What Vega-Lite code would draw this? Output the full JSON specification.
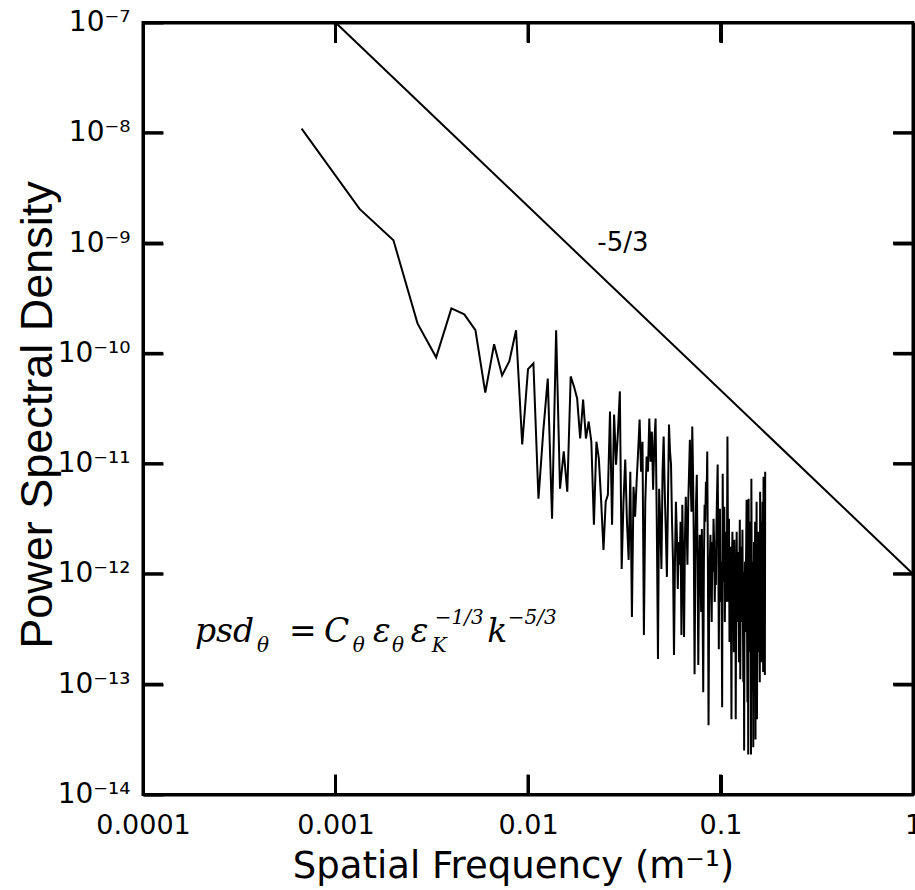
{
  "$schema": "https://vega.github.io/schema/vega-lite/v6.json",
  "width": 770,
  "height": 772,
  "autosize": {"type": "none"},
  "padding": {"left": 143, "top": 22.5, "right": 2, "bottom": 95.5},
  "background": "white",
  "config": {
    "view": {"stroke": "black", "strokeWidth": 3},
    "axis": {"grid": false, "zindex": 1, "ticks": true, "tickSize": -20, "tickWidth": 3, "tickColor": "black", "tickOpacity": 1, "domainColor": "black", "domainWidth": 3, "labelColor": "black", "titleColor": "black"}
  },
  "datasets": {
    "spectrum": [
      {"k":0.000666667,"p":1.09e-8},{"k":0.00133333,"p":2.04e-9},{"k":0.002,"p":1.06e-9},{"k":0.00266667,"p":1.87e-10},{"k":0.00333333,"p":9.2e-11},
      {"k":0.004,"p":2.56e-10},{"k":0.00466667,"p":2.26e-10},{"k":0.00533333,"p":1.62e-10},{"k":0.006,"p":4.4e-11},{"k":0.00666667,"p":1.21e-10},
      {"k":0.00733333,"p":6.3e-11},{"k":0.008,"p":8.5e-11},{"k":0.00866667,"p":1.62e-10},{"k":0.00933333,"p":1.49e-11},{"k":0.01,"p":7.2e-11},
      {"k":0.0106667,"p":8.1e-11},{"k":0.0113333,"p":4.81e-12},{"k":0.012,"p":1.95e-11},{"k":0.0126667,"p":5.9e-11},{"k":0.0133333,"p":3.16e-12},
      {"k":0.014,"p":1.62e-10},{"k":0.0146667,"p":5.93e-12},{"k":0.0153333,"p":1.29e-11},{"k":0.016,"p":5.56e-12},{"k":0.0166667,"p":6.18e-11},
      {"k":0.0173333,"p":5.01e-11},{"k":0.018,"p":3.9e-11},{"k":0.0186667,"p":1.69e-11},{"k":0.0193333,"p":3.82e-11},{"k":0.02,"p":1.69e-11},
      {"k":0.0206667,"p":2.41e-11},{"k":0.0213333,"p":1.58e-11},{"k":0.022,"p":2.79e-12},{"k":0.0226667,"p":1.58e-11},{"k":0.0233333,"p":1.11e-11},
      {"k":0.024,"p":4.52e-12},{"k":0.0246667,"p":1.65e-12},{"k":0.0253333,"p":4.52e-12},{"k":0.026,"p":5.22e-12},{"k":0.0266667,"p":2.97e-11},
      {"k":0.0273333,"p":2.79e-12},{"k":0.028,"p":2.79e-11},{"k":0.0286667,"p":9.8e-12},{"k":0.0293333,"p":1.95e-11},{"k":0.03,"p":4.52e-11},
      {"k":0.0306667,"p":1.11e-12},{"k":0.0313333,"p":4.52e-12},{"k":0.032,"p":1.09e-11},{"k":0.0326667,"p":2.97e-12},{"k":0.0333333,"p":1.34e-12},
      {"k":0.034,"p":8.45e-12},{"k":0.0346667,"p":4.06e-13},{"k":0.0353333,"p":6.18e-12},{"k":0.036,"p":3.3e-12},{"k":0.0366667,"p":6.86e-12},
      {"k":0.0373333,"p":1.29e-11},{"k":0.038,"p":2.51e-11},{"k":0.0386667,"p":8.45e-12},{"k":0.0393333,"p":1.58e-11},{"k":0.04,"p":2.79e-13},
      {"k":0.0406667,"p":4.52e-12},{"k":0.0413333,"p":1.16e-11},{"k":0.042,"p":8.45e-12},{"k":0.0426667,"p":2.56e-11},{"k":0.0433333,"p":1.04e-11},
      {"k":0.044,"p":1.95e-11},{"k":0.0446667,"p":5.8e-12},{"k":0.0453333,"p":1.58e-11},{"k":0.046,"p":2.56e-11},{"k":0.0466667,"p":2.97e-12},
      {"k":0.0473333,"p":1.69e-13},{"k":0.048,"p":5.93e-12},{"k":0.0486667,"p":2.97e-12},{"k":0.0493333,"p":1.11e-12},{"k":0.05,"p":8.45e-12},
      {"k":0.0506667,"p":1.76e-11},{"k":0.0513333,"p":5.56e-12},{"k":0.052,"p":2.41e-12},{"k":0.0526667,"p":9.4e-13},{"k":0.0533333,"p":4.52e-12},
      {"k":0.054,"p":2.26e-11},{"k":0.0546667,"p":1.29e-11},{"k":0.0553333,"p":9.8e-12},{"k":0.056,"p":2.97e-12},{"k":0.0566667,"p":1.29e-12},
      {"k":0.0573333,"p":1.84e-13},{"k":0.058,"p":1.29e-12},{"k":0.0586667,"p":4.52e-12},{"k":0.0593333,"p":2.31e-12},{"k":0.06,"p":7.31e-13},
      {"k":0.0606667,"p":1.95e-12},{"k":0.0613333,"p":1.21e-12},{"k":0.062,"p":2.97e-12},{"k":0.0626667,"p":2.79e-13},{"k":0.0633333,"p":4.24e-12},
      {"k":0.064,"p":1.29e-12},{"k":0.0646667,"p":2.68e-13},{"k":0.0653333,"p":1.95e-12},{"k":0.066,"p":5.01e-12},{"k":0.0666667,"p":2.97e-12},
      {"k":0.0673333,"p":1.21e-12},{"k":0.068,"p":4.52e-12},{"k":0.0686667,"p":8.45e-12},{"k":0.0693333,"p":1.65e-11},{"k":0.07,"p":6.86e-12},
      {"k":0.0706667,"p":3.66e-12},{"k":0.0713333,"p":2.17e-11},{"k":0.072,"p":8.45e-12},{"k":0.0726667,"p":1.95e-12},{"k":0.0733333,"p":1.23e-13},
      {"k":0.074,"p":1.29e-12},{"k":0.0746667,"p":4.52e-12},{"k":0.0753333,"p":7.94e-12},{"k":0.076,"p":1.29e-12},{"k":0.0766667,"p":1.49e-13},
      {"k":0.0773333,"p":8.45e-13},{"k":0.078,"p":2.26e-12},{"k":0.0786667,"p":1.29e-12},{"k":0.0793333,"p":4.52e-13},{"k":0.08,"p":2.56e-12},
      {"k":0.0806667,"p":5.56e-13},{"k":0.0813333,"p":8.45e-14},{"k":0.082,"p":1.29e-12},{"k":0.0826667,"p":4.24e-12},{"k":0.0833333,"p":2.97e-12},
      {"k":0.084,"p":6.86e-12},{"k":0.0846667,"p":4.52e-12},{"k":0.0853333,"p":1.29e-11},{"k":0.086,"p":1.29e-12},{"k":0.0866667,"p":4.24e-14},
      {"k":0.0873333,"p":5.56e-13},{"k":0.088,"p":1.29e-12},{"k":0.0886667,"p":2.26e-12},{"k":0.0893333,"p":8.45e-13},{"k":0.09,"p":3.66e-13},
      {"k":0.0906667,"p":1.95e-12},{"k":0.0913333,"p":1.04e-12},{"k":0.092,"p":3.16e-12},{"k":0.0926667,"p":1.95e-12},{"k":0.0933333,"p":5.56e-13},
      {"k":0.094,"p":1.29e-12},{"k":0.0946667,"p":7.94e-13},{"k":0.0953333,"p":2.97e-12},{"k":0.096,"p":5.56e-12},{"k":0.0966667,"p":9.8e-12},
      {"k":0.0973333,"p":2.41e-12},{"k":0.098,"p":2.08e-13},{"k":0.0986667,"p":1.29e-12},{"k":0.0993333,"p":3.9e-12},{"k":0.1,"p":5.56e-13},
      {"k":0.100667,"p":1.29e-12},{"k":0.101333,"p":5.56e-13},{"k":0.102,"p":6.18e-14},{"k":0.102667,"p":8.1e-12},{"k":0.103333,"p":1.29e-12},
      {"k":0.104,"p":8.45e-13},{"k":0.104667,"p":4.06e-12},{"k":0.105333,"p":3.66e-13},{"k":0.106,"p":1.29e-12},{"k":0.106667,"p":2.41e-12},
      {"k":0.107333,"p":5.56e-13},{"k":0.108,"p":1.29e-12},{"k":0.108667,"p":1.76e-11},{"k":0.109333,"p":1.95e-12},{"k":0.11,"p":5.56e-13},
      {"k":0.110667,"p":3.16e-12},{"k":0.111333,"p":2.41e-13},{"k":0.112,"p":8.45e-13},{"k":0.112667,"p":1.76e-12},{"k":0.113333,"p":4.52e-13},
      {"k":0.114,"p":4.81e-14},{"k":0.114667,"p":1.29e-12},{"k":0.115333,"p":2.41e-12},{"k":0.116,"p":5.56e-13},{"k":0.116667,"p":1.04e-12},
      {"k":0.117333,"p":1.95e-13},{"k":0.118,"p":2.04e-12},{"k":0.118667,"p":5.56e-13},{"k":0.119333,"p":1.29e-12},{"k":0.12,"p":4.81e-14},
      {"k":0.120667,"p":8.45e-13},{"k":0.121333,"p":2.41e-12},{"k":0.122,"p":6.86e-13},{"k":0.122667,"p":3.66e-13},{"k":0.123333,"p":1.58e-12},
      {"k":0.124,"p":5.56e-13},{"k":0.124667,"p":1.58e-13},{"k":0.125333,"p":1.29e-12},{"k":0.126,"p":3.1e-12},{"k":0.126667,"p":1.11e-13},
      {"k":0.127333,"p":8.45e-13},{"k":0.128,"p":1.76e-12},{"k":0.128667,"p":3.66e-13},{"k":0.129333,"p":5.56e-13},{"k":0.13,"p":2.51e-12},
      {"k":0.130667,"p":5.56e-13},{"k":0.131333,"p":1.04e-13},{"k":0.132,"p":1.04e-12},{"k":0.132667,"p":2.51e-14},{"k":0.133333,"p":5.56e-13},
      {"k":0.134,"p":1.29e-12},{"k":0.134667,"p":2.97e-13},{"k":0.135333,"p":8.45e-13},{"k":0.136,"p":1.95e-12},{"k":0.136667,"p":4.71e-12},
      {"k":0.137333,"p":3.66e-13},{"k":0.138,"p":6.86e-14},{"k":0.138667,"p":8.45e-13},{"k":0.139333,"p":2.31e-14},{"k":0.14,"p":4.81e-12},
      {"k":0.140667,"p":5.56e-13},{"k":0.141333,"p":1.95e-13},{"k":0.142,"p":1.29e-12},{"k":0.142667,"p":5.56e-13},{"k":0.143333,"p":2.97e-12},
      {"k":0.144,"p":2.31e-14},{"k":0.144667,"p":7.31e-12},{"k":0.145333,"p":8.45e-13},{"k":0.146,"p":3.66e-13},{"k":0.146667,"p":8.45e-14},
      {"k":0.147333,"p":1.29e-12},{"k":0.148,"p":2.68e-14},{"k":0.148667,"p":5.56e-13},{"k":0.149333,"p":1.95e-12},{"k":0.15,"p":2.41e-13},
      {"k":0.150667,"p":8.45e-13},{"k":0.151333,"p":2.97e-12},{"k":0.152,"p":3.16e-14},{"k":0.152667,"p":5.56e-13},{"k":0.153333,"p":1.29e-12},
      {"k":0.154,"p":4.52e-12},{"k":0.154667,"p":4.81e-14},{"k":0.155333,"p":3.66e-13},{"k":0.156,"p":1.29e-12},{"k":0.156667,"p":5.56e-13},
      {"k":0.157333,"p":2.41e-12},{"k":0.158,"p":1.95e-13},{"k":0.158667,"p":8.45e-13},{"k":0.159333,"p":3.66e-13},{"k":0.16,"p":1.04e-13},
      {"k":0.160667,"p":5.56e-12},{"k":0.161333,"p":1.29e-12},{"k":0.162,"p":2.41e-13},{"k":0.162667,"p":5.56e-13},{"k":0.163333,"p":2.97e-12},
      {"k":0.164,"p":1.58e-13},{"k":0.164667,"p":1.29e-12},{"k":0.165333,"p":4.52e-12},{"k":0.166,"p":3.66e-13},{"k":0.166667,"p":1.29e-13},
      {"k":0.167333,"p":7.62e-12},{"k":0.168,"p":1.29e-12},{"k":0.168667,"p":5.56e-13},{"k":0.169333,"p":2.97e-12},{"k":0.17,"p":1.21e-13},
      {"k":0.170667,"p":8.45e-12}
    ],
    "slope": [{"k":0.001,"p":1e-7},{"k":1,"p":1e-12}],
    "slopeLabel": [{"k":0.0311,"p":8.5e-10,"t":"-5/3"}],
    "ticks": [
      {"id":"b1","k":0.001,"p":1e-14},{"id":"b1","k":0.001,"p":1.518e-14},
      {"id":"b2","k":0.01,"p":1e-14},{"id":"b2","k":0.01,"p":1.518e-14},
      {"id":"b3","k":0.1,"p":1e-14},{"id":"b3","k":0.1,"p":1.518e-14},
      {"id":"t1","k":0.001,"p":1e-7},{"id":"t1","k":0.001,"p":6.59e-8},
      {"id":"t2","k":0.01,"p":1e-7},{"id":"t2","k":0.01,"p":6.59e-8},
      {"id":"t3","k":0.1,"p":1e-7},{"id":"t3","k":0.1,"p":6.59e-8},
      {"id":"l1","k":0.0001,"p":1e-13},{"id":"l1","k":0.000127,"p":1e-13},
      {"id":"l2","k":0.0001,"p":1e-12},{"id":"l2","k":0.000127,"p":1e-12},
      {"id":"l3","k":0.0001,"p":1e-11},{"id":"l3","k":0.000127,"p":1e-11},
      {"id":"l4","k":0.0001,"p":1e-10},{"id":"l4","k":0.000127,"p":1e-10},
      {"id":"l5","k":0.0001,"p":1e-9},{"id":"l5","k":0.000127,"p":1e-9},
      {"id":"l6","k":0.0001,"p":1e-8},{"id":"l6","k":0.000127,"p":1e-8},
      {"id":"r1","k":0.787,"p":1e-13},{"id":"r1","k":1,"p":1e-13},
      {"id":"r2","k":0.787,"p":1e-12},{"id":"r2","k":1,"p":1e-12},
      {"id":"r3","k":0.787,"p":1e-11},{"id":"r3","k":1,"p":1e-11},
      {"id":"r4","k":0.787,"p":1e-10},{"id":"r4","k":1,"p":1e-10},
      {"id":"r5","k":0.787,"p":1e-9},{"id":"r5","k":1,"p":1e-9},
      {"id":"r6","k":0.787,"p":1e-8},{"id":"r6","k":1,"p":1e-8}
    ],
    "eqBig": [
      {"k":0.0001862,"p":2.395e-13,"t":"psd"},
      {"k":0.000573,"p":2.395e-13,"t":"="},
      {"k":0.000871,"p":2.395e-13,"t":"C"},
      {"k":0.001564,"p":2.395e-13,"t":"ε"},
      {"k":0.002463,"p":2.395e-13,"t":"ε"},
      {"k":0.00615,"p":2.395e-13,"t":"k"}
    ],
    "eqSmall": [
      {"k":0.000391,"p":1.945e-13,"t":"θ"},
      {"k":0.001231,"p":1.945e-13,"t":"θ"},
      {"k":0.001963,"p":1.945e-13,"t":"θ"},
      {"k":0.003166,"p":1.945e-13,"t":"K"},
      {"k":0.003282,"p":3.488e-13,"t":"−1/3"},
      {"k":0.007855,"p":3.488e-13,"t":"−5/3"}
    ]
  },
  "layer": [
    {
      "data": {"name": "spectrum"},
      "mark": {"type": "line", "color": "black", "strokeWidth": 2},
      "encoding": {
        "x": {
          "field": "k", "type": "quantitative",
          "scale": {"type": "log", "domain": [0.0001, 1], "nice": false},
          "axis": {
            "orient": "bottom", "values": [0.0001, 0.001, 0.01, 0.1, 1], "format": "~g",
            "labelFont": "DejaVu Sans", "labelFontSize": 27, "labelPadding": 38,
            "labelFlush": false, "labelOverlap": false, "labelBaseline": "top",
            "title": "Spatial Frequency (m⁻¹)", "titleFont": "DejaVu Sans", "titleFontSize": 37,
            "titleFontWeight": "normal", "titleX": 370, "titleY": 83,
            "titleBaseline": "alphabetic", "titleAlign": "center"
          }
        },
        "y": {
          "field": "p", "type": "quantitative",
          "scale": {"type": "log", "domain": [1e-14, 1e-7], "nice": false},
          "axis": {
            "orient": "left", "values": [1e-14, 1e-13, 1e-12, 1e-11, 1e-10, 1e-9, 1e-8, 1e-7],
            "labelExpr": "'10⁻' + (round(-log(datum.value)/LN10) >= 10 ? '¹' : '') + ['⁰','¹','²','³','⁴','⁵','⁶','⁷','⁸','⁹'][round(-log(datum.value)/LN10) % 10]",
            "labelFont": "DejaVu Sans", "labelFontSize": 28, "labelPadding": 33,
            "labelFlush": false, "labelOverlap": false,
            "title": "Power Spectral Density", "titleFont": "Liberation Sans", "titleFontSize": 45,
            "titleFontWeight": "normal", "titleX": -92, "titleY": 392, "titleAngle": 270,
            "titleBaseline": "alphabetic", "titleAlign": "center"
          }
        }
      }
    },
    {
      "data": {"name": "slope"},
      "mark": {"type": "line", "color": "black", "strokeWidth": 2},
      "encoding": {
        "x": {
          "field": "k", "type": "quantitative",
          "scale": {"type": "log", "domain": [0.0001, 1], "nice": false},
          "axis": {"orient": "top", "values": [0.001, 0.01, 0.1], "labels": false, "title": null}
        },
        "y": {
          "field": "p", "type": "quantitative",
          "scale": {"type": "log", "domain": [1e-14, 1e-7], "nice": false},
          "axis": {"orient": "right", "values": [1e-13, 1e-12, 1e-11, 1e-10, 1e-9, 1e-8], "labels": false, "title": null}
        }
      }
    },
    {
      "data": {"name": "slopeLabel"},
      "mark": {"type": "text", "font": "DejaVu Sans", "fontSize": 26, "align": "center", "baseline": "alphabetic", "color": "black"},
      "encoding": {
        "x": {"field": "k", "type": "quantitative", "scale": {"type": "log", "domain": [0.0001, 1], "nice": false}, "axis": null},
        "y": {"field": "p", "type": "quantitative", "scale": {"type": "log", "domain": [1e-14, 1e-7], "nice": false}, "axis": null},
        "text": {"field": "t"}
      }
    },
    {
      "data": {"name": "eqBig"},
      "mark": {"type": "text", "font": "DejaVu Serif", "fontStyle": "italic", "fontSize": 33, "align": "left", "baseline": "alphabetic", "color": "black"},
      "encoding": {
        "x": {"field": "k", "type": "quantitative", "scale": {"type": "log", "domain": [0.0001, 1], "nice": false}, "axis": null},
        "y": {"field": "p", "type": "quantitative", "scale": {"type": "log", "domain": [1e-14, 1e-7], "nice": false}, "axis": null},
        "text": {"field": "t"}
      }
    },
    {
      "data": {"name": "eqSmall"},
      "mark": {"type": "text", "font": "DejaVu Serif", "fontStyle": "italic", "fontSize": 20, "align": "left", "baseline": "alphabetic", "color": "black"},
      "encoding": {
        "x": {"field": "k", "type": "quantitative", "scale": {"type": "log", "domain": [0.0001, 1], "nice": false}, "axis": null},
        "y": {"field": "p", "type": "quantitative", "scale": {"type": "log", "domain": [1e-14, 1e-7], "nice": false}, "axis": null},
        "text": {"field": "t"}
      }
    },
    {
      "data": {"name": "ticks"},
      "mark": {"type": "line", "color": "black", "strokeWidth": 3, "strokeCap": "butt", "clip": false},
      "encoding": {
        "x": {"field": "k", "type": "quantitative", "scale": {"type": "log", "domain": [0.0001, 1], "nice": false}, "axis": null},
        "y": {"field": "p", "type": "quantitative", "scale": {"type": "log", "domain": [1e-14, 1e-7], "nice": false}, "axis": null},
        "detail": {"field": "id", "type": "nominal"}
      }
    }
  ],
  "resolve": {"axis": {"x": "independent", "y": "independent"}}
}
